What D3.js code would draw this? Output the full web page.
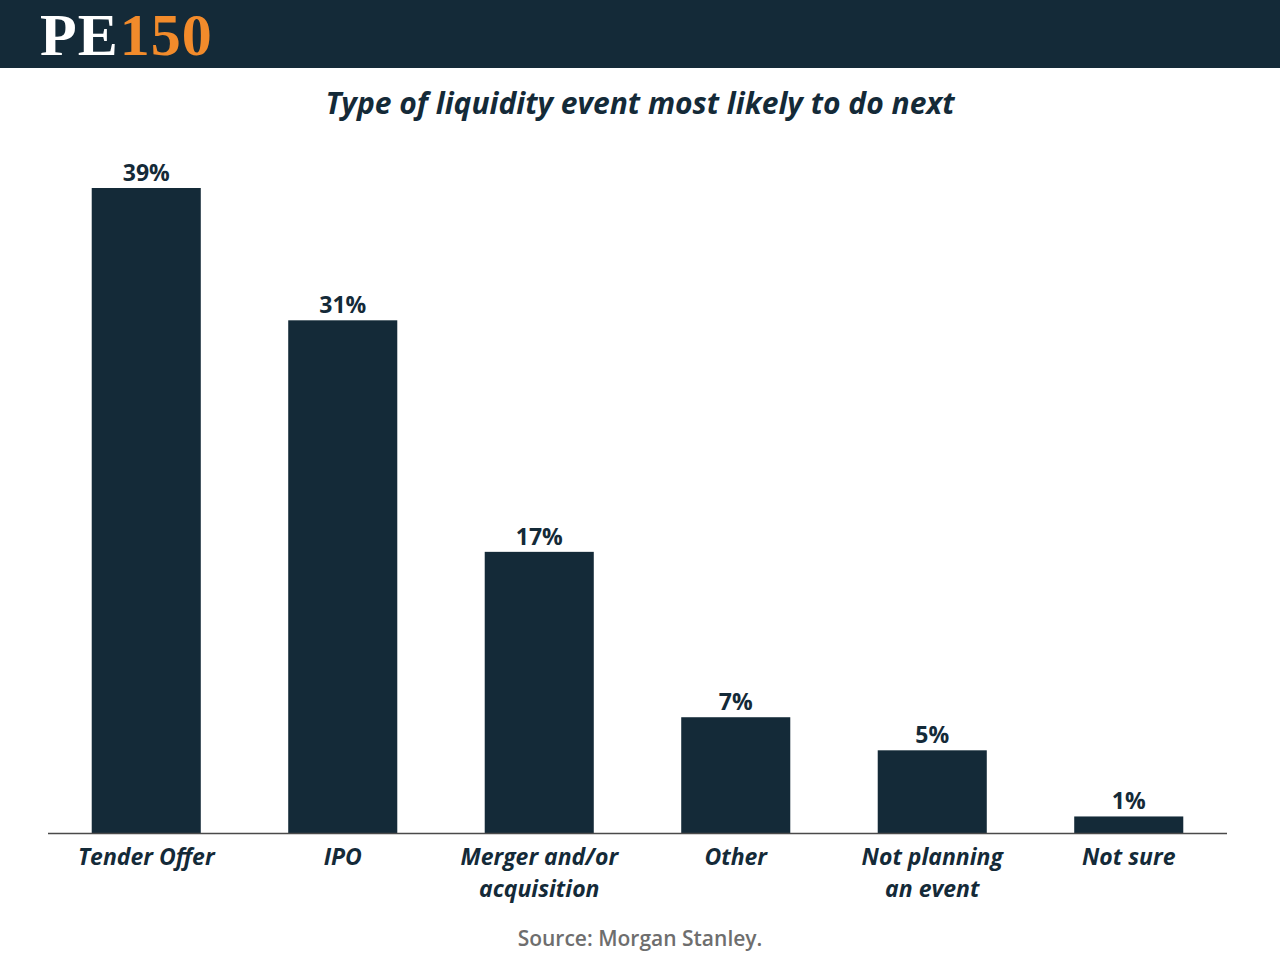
<!DOCTYPE html>
<html>
<head>
<meta charset="utf-8">
<script src="https://cdn.jsdelivr.net/npm/d3@7"></script>
<style>
  body { margin: 0; background: #fff; }
  #chart { width: 1280px; height: 960px; }
</style>
</head>
<body>
<div id="chart"></div>
<script>

const categories = [["Tender Offer"], ["IPO"], ["Merger and/or", "acquisition"], ["Other"], ["Not planning", "an event"], ["Not sure"]];
const values = [39, 31, 17, 7, 5, 1];
const chartTitle = "Type of liquidity event most likely to do next";
const sourceText = "Source: Morgan Stanley.";

function drawChart() {
    const width = 1280, height = 960;
    const dark = "#142a38";

    const svg = d3.select("#chart")
        .append("svg")
        .attr("width", width)
        .attr("height", height);

    // header band with logo
    svg.append("rect")
        .attr("x", 0).attr("y", 0)
        .attr("width", width).attr("height", 68)
        .attr("fill", dark);

    const logo = svg.append("text")
        .attr("x", 40)
        .attr("y", 55)
        .style("font-family", "'Liberation Serif', serif")
        .style("font-weight", "bold")
        .style("font-size", "60px")
        .style("letter-spacing", "1px");
    logo.append("tspan").attr("fill", "#ffffff").text("PE");
    logo.append("tspan").attr("fill", "#f28b2b").attr("dx", 1).text("150");

    svg.append("text")
        .attr("x", width / 2)
        .attr("y", 114)
        .attr("text-anchor", "middle")
        .style("font-family", "'Open Sans', sans-serif")
        .style("font-weight", "bold")
        .style("font-style", "italic")
        .style("font-size", "30px")
        .style("fill", dark)
        .text(chartTitle);

    const x = d3.scaleBand()
        .domain(d3.range(values.length))
        .range([48, 1227])
        .paddingInner(0.445)
        .paddingOuter(0.2225);

    const y = d3.scaleLinear()
        .domain([0, 39])
        .range([833, 188]);

    svg.selectAll(".bar")
        .data(values)
        .enter()
        .append("rect")
        .attr("class", "bar")
        .attr("x", (d, i) => x(i))
        .attr("y", d => y(d))
        .attr("width", x.bandwidth())
        .attr("height", d => y(0) - y(d))
        .attr("fill", dark);

    svg.selectAll(".val")
        .data(values)
        .enter()
        .append("text")
        .attr("class", "val")
        .attr("x", (d, i) => x(i) + x.bandwidth() / 2)
        .attr("y", d => y(d) - 7)
        .attr("text-anchor", "middle")
        .style("font-family", "'Open Sans', sans-serif")
        .style("font-weight", "bold")
        .style("font-size", "23px")
        .style("fill", dark)
        .text(d => d + "%");

    // baseline
    svg.append("line")
        .attr("x1", 48).attr("x2", 1227)
        .attr("y1", y(0) + 0.5).attr("y2", y(0) + 0.5)
        .attr("stroke", "#4a4a4a")
        .attr("stroke-width", 1.5);

    const labels = svg.selectAll(".cat")
        .data(categories)
        .enter()
        .append("text")
        .attr("class", "cat")
        .attr("text-anchor", "middle")
        .attr("y", 865)
        .style("font-family", "'Open Sans', sans-serif")
        .style("font-weight", "bold")
        .style("font-style", "italic")
        .style("font-size", "23px")
        .style("fill", dark);

    labels.each(function(lines, i) {
        const t = d3.select(this);
        lines.forEach((line, j) => {
            t.append("tspan")
                .attr("x", x(i) + x.bandwidth() / 2)
                .attr("dy", j === 0 ? 0 : 32)
                .text(line);
        });
    });

    svg.append("text")
        .attr("x", width / 2)
        .attr("y", 946)
        .attr("text-anchor", "middle")
        .style("font-family", "'Open Sans', sans-serif")
        .style("font-weight", 600)
        .style("font-size", "21px")
        .style("fill", "#6e6e6e")
        .text(sourceText);
}

drawChart();
</script>
</body>
</html>
